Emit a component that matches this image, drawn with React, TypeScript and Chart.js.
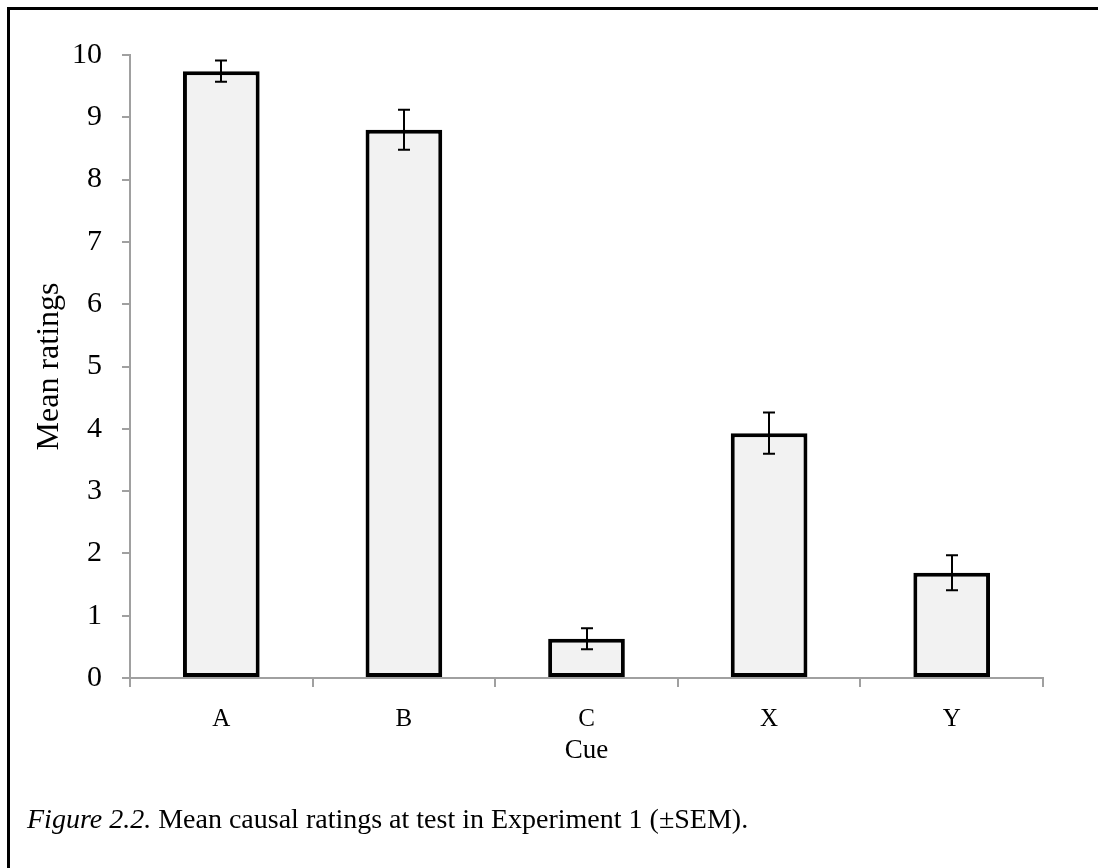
import React, { useEffect, useRef } from "react";
import { Chart, registerables } from "chart.js";

Chart.register(...registerables);

const categories = ["A", "B", "C", "X", "Y"];
const meanRatings = [9.74, 8.8, 0.63, 3.93, 1.69];
const semValues = [0.17, 0.32, 0.17, 0.33, 0.28];
const yTicks = [0, 1, 2, 3, 4, 5, 6, 7, 8, 9, 10];

const FONT = "'Liberation Serif', 'Times New Roman', serif";

const errorBarPlugin = {
  id: "errorBars",
  afterDatasetsDraw(chart: any) {
    const meta = chart.getDatasetMeta(0);
    const yScale = chart.scales.y;
    const ctx = chart.ctx;
    ctx.save();
    ctx.strokeStyle = "#000";
    ctx.lineWidth = 2;
    meta.data.forEach((bar: any, i: number) => {
      const x = Math.round(bar.x);
      const top = yScale.getPixelForValue(meanRatings[i] + semValues[i]);
      const bot = yScale.getPixelForValue(meanRatings[i] - semValues[i]);
      ctx.beginPath();
      ctx.moveTo(x, top);
      ctx.lineTo(x, bot);
      ctx.moveTo(x - 6, top);
      ctx.lineTo(x + 6, top);
      ctx.moveTo(x - 6, bot);
      ctx.lineTo(x + 6, bot);
      ctx.stroke();
    });
    ctx.restore();
  },
};

export default function App() {
  const ref = useRef<HTMLCanvasElement | null>(null);
  useEffect(() => {
    if (!ref.current) return;
    const chart = new Chart(ref.current, {
      type: "bar",
      data: {
        labels: categories,
        datasets: [
          {
            data: meanRatings,
            backgroundColor: "#f2f2f2",
            borderColor: "#000",
            borderWidth: 4,
            borderSkipped: false,
            barPercentage: 0.42,
            categoryPercentage: 1,
          },
        ],
      },
      options: {
        responsive: false,
        animation: false,
        events: [],
        layout: { padding: { left: 0, top: 55, right: 55, bottom: 90 } },
        plugins: { legend: { display: false }, tooltip: { enabled: false } },
        scales: {
          x: {
            z: 1,
            offset: true,
            grid: {
              offset: true,
              drawOnChartArea: false,
              drawTicks: true,
              tickLength: 9,
              color: "#a0a0a0",
              lineWidth: 2,
            },
            border: { display: true, color: "#a0a0a0", width: 2 },
            ticks: {
              color: "#000",
              padding: 17,
              font: { family: FONT, size: 25 },
            },
            title: {
              display: true,
              text: "Cue",
              color: "#000",
              font: { family: FONT, size: 27 },
              padding: { top: 0, bottom: 11 },
            },
            afterFit: (scale: any) => {
              scale.height = 100;
            },
          },
          y: {
            z: 1,
            min: 0,
            max: 10,
            afterBuildTicks: (scale: any) => {
              scale.ticks = yTicks.map((v) => ({ value: v }));
            },
            grid: {
              drawOnChartArea: false,
              drawTicks: true,
              tickLength: 8,
              color: "#a0a0a0",
              lineWidth: 2,
            },
            border: { display: true, color: "#a0a0a0", width: 2 },
            ticks: {
              color: "#000",
              padding: 20,
              font: { family: FONT, size: 30 },
            },
            title: {
              display: true,
              text: "Mean ratings",
              color: "#000",
              font: { family: FONT, size: 32 },
              padding: { top: 30, bottom: 0 },
            },
            afterFit: (scale: any) => {
              scale.width = 130;
            },
          },
        },
      },
      plugins: [errorBarPlugin],
    });
    return () => chart.destroy();
  }, []);

  return (
    <div style={{ position: "absolute", left: 0, top: 0, width: 1098, height: 868, overflow: "hidden", background: "#fff" }}>
      <div
        style={{
          position: "absolute",
          left: 7,
          top: 7,
          width: 1100,
          height: 870,
          borderTop: "3px solid #000",
          borderLeft: "3px solid #000",
        }}
      />
      <canvas ref={ref} width={1098} height={868} style={{ position: "absolute", left: 0, top: 0 }} />
      <div
        style={{
          position: "absolute",
          left: 27,
          top: 804,
          fontFamily: FONT,
          fontSize: 28,
          color: "#000",
          whiteSpace: "nowrap",
          lineHeight: "30px",
        }}
      >
        <i>Figure 2.2.</i> Mean causal ratings at test in Experiment 1 (±SEM).
      </div>
    </div>
  );
}
